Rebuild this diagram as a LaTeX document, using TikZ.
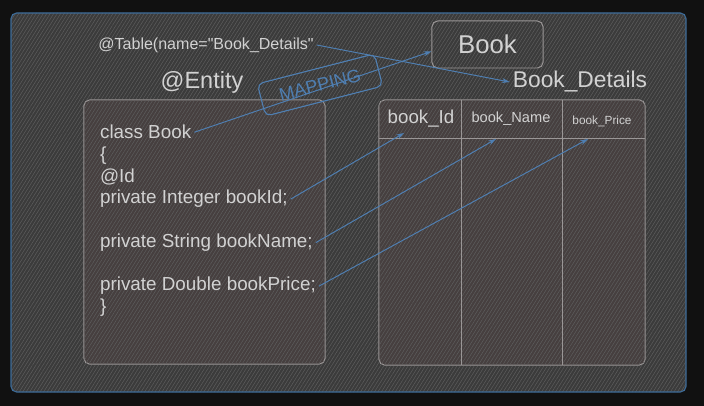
\documentclass[tikz,border=0pt]{standalone}
\usepackage{fontspec}
\setmainfont{Liberation Sans}
\usetikzlibrary{arrows.meta,positioning,patterns.meta}
\definecolor{bgdark}{HTML}{111111}
\definecolor{panel}{HTML}{3B3B3B}
\definecolor{hatch}{HTML}{5E5E5E}
\definecolor{boxfill}{HTML}{463F3F}
\definecolor{boxline}{HTML}{9A9696}
\definecolor{txtgray}{HTML}{D2D2D2}
\definecolor{mapblue}{HTML}{4F7FB2}
\definecolor{frameblue}{HTML}{3D6C99}

\begin{document}
\begin{tikzpicture}[x=0.025cm,y=-0.025cm,
    hatched/.style={postaction={pattern={Lines[angle=58,distance=2.1pt,line width=0.35pt]},pattern color=hatch}},
    codebox/.style={draw=boxline,line width=0.7pt,fill=boxfill,rounded corners=4pt,hatched},
    codeline/.style={anchor=base west,text=txtgray,inner sep=2pt,font=\fontsize{13.4}{16}\selectfont},
    label/.style={text=txtgray,inner sep=2pt},
    link/.style={mapblue,line width=0.7pt,-{Stealth[length=5.5pt,width=3.5pt]}}]
  % Page and panel
  \fill[bgdark] (0,0) rectangle (704,406);
  \fill[panel,rounded corners=4pt,hatched] (11,13) rectangle (686,392);
  \draw[frameblue,line width=0.8pt,rounded corners=4pt] (11,13) rectangle (686,392);

  % Entity class
  \node[codebox,minimum width=6.025cm,minimum height=6.6cm] (entitybox) at (204.5,232) {};
  \node[label,font=\fontsize{16.7}{20}\selectfont] (entitylbl) at (202,82) {@Entity};
  \node[label,font=\fontsize{11.4}{14}\selectfont] (tablelbl) at (206,45)
    {@Table(name=\textquotedbl Book\_Details\textquotedbl};

  \node[codeline] (clsline) at (97,139) {class Book};
  \node[codeline] (openbr) at (97,160.7) {\{};
  \node[codeline] (idann) at (97,182.4) {@Id};
  \node[codeline] (idline) at (97,204) {private Integer bookId;};
  \node[codeline] (nameline) at (97,247.5) {private String bookName;};
  \node[codeline] (priceline) at (97,291) {private Double bookPrice;};
  \node[codeline] (closebr) at (97,312.6) {\}};

  % Table
  \node[codebox,minimum width=6.65cm,minimum height=6.625cm] (tablebox) at (512,232.5) {};
  \draw[boxline,line width=0.7pt] (379,138) -- (645,138);
  \draw[boxline,line width=0.7pt] (461,100) -- (461,365);
  \draw[boxline,line width=0.7pt] (562,100) -- (562,365);
  \node[label,font=\fontsize{13.3}{16}\selectfont] (hid) at (421,119) {book\_Id};
  \node[label,font=\fontsize{10.4}{12}\selectfont] (hname) at (511,119) {book\_Name};
  \node[label,font=\fontsize{8.4}{10}\selectfont] (hprice) at (602,121) {book\_Price};
  \node[label,font=\fontsize{16.2}{20}\selectfont] (detailslbl) at (580,82) {Book\_Details};

  % Class name box
  \node[draw=boxline,line width=0.7pt,rounded corners=4pt,minimum width=2.775cm,minimum height=1.175cm,
    label,font=\fontsize{18.3}{22}\selectfont] (bookbox) at (487.5,44.5) {Book};

  % Mapping stamp
  \node[draw=mapblue,line width=0.8pt,rounded corners=4pt,rotate=14.4,minimum width=3.02cm,minimum height=0.83cm,
    text=mapblue,font=\fontsize{12.9}{15}\selectfont] (mapbox) at (320,85) {MAPPING};

  % Arrow tips in the header
  \coordinate (idtip) at (404,133);
  \coordinate (nametip) at (496,139);
  \coordinate (pricetip) at (588,139);

  % Links
  \draw[link] (clsline.east) -- (bookbox.187);
  \draw[link] (tablelbl.east) -- (detailslbl.west);
  \draw[link] (idline.east) -- (idtip);
  \draw[link] (nameline.east) -- (nametip);
  \draw[link] (priceline.east) -- (pricetip);
\end{tikzpicture}
\end{document}
